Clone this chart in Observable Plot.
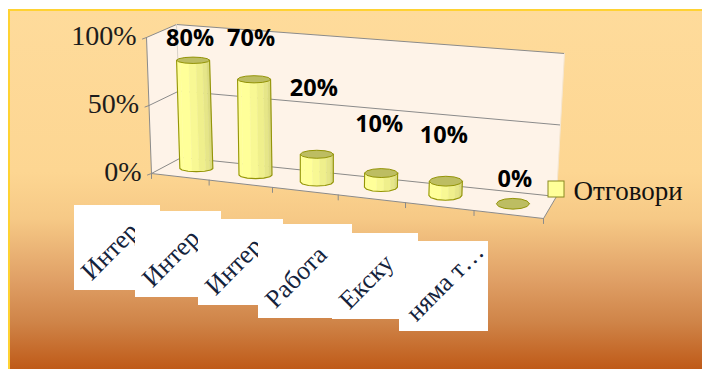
<!DOCTYPE html>
<html>
<head>
<meta charset="utf-8">
<script src="https://cdn.jsdelivr.net/npm/d3@7"></script>
<script src="https://cdn.jsdelivr.net/npm/@observablehq/plot@0.6"></script>
<style>
  html, body { margin: 0; padding: 0; background: #fff; }
  #panel {
    position: absolute; left: 8px; top: 9px; width: 694px; height: 360px; box-sizing: border-box;
    border-top: 2px solid #ffd233; border-left: 2px solid #ffd233;
    background: linear-gradient(180deg, #fedb9b 0%, #fdd692 45%, #f6c986 58%, #e0a066 75%, #cf8448 87%, #bf5a18 100%);
  }
  #chart { position: absolute; left: 0; top: 0; }
  svg { background: transparent !important; }
</style>
</head>
<body>
<div id="panel"></div>
<div id="chart"></div>
<script>
// Survey answers, one cylinder per option
const categories = ["Интер", "Интер", "Интер", "Работа", "Екску", "няма т…"];
const answers = [80, 70, 20, 10, 10, 0];
const axisValues = [0, 50, 100];
const seriesName = "Отговори";

// Screen layout: cylinder nudges, how far each value label sits above its cylinder, and the white label cards
const barNudge = [[3, 0], [2, 0], [0, 0], [-1, -2], [-3, -1], [-3, 0]];
const labelLift = [22, 41, 66, 51, 47, 24];
const labelNudge = [0, -1, -3, -3, -5, -1];
const cards = [[74, 205, 86, 85], [135, 211, 86, 86], [198, 219, 85, 86], [258, 224, 94, 94], [332, 233, 86, 86], [399, 241, 89, 90]];

const W = 702, H = 369;
const unitX = 392 / 6;   // pixels per category on the front edge
const unitY = 1.36;      // pixels per percent
const originY = 173;     // pixel row of the front-left floor corner
const depthBar = 0.5;

// Category position with a slight perspective stretch towards the right
const persp = u => Math.pow(Math.max(u, 0) / 6, 1.07);

// Oblique 3-D box projection into the chart's x (category) and y (percent) units
function pt(u, d, v, skewX = 0, skewY = 0) {
  const t = persp(u);
  const xPx = 392 * t + d * (30 - 17 * t) + (v / 100) * (-5 + 13 * t) + skewX;
  const yPx = 45 * t - d * (16 + 6 * t) - (v / 100) * (136 + 10 * t - 3 * d) + skewY;
  return {x: xPx / unitX, y: -yPx / unitY};
}
const fromPx = (px, py) => ({x: (px - 151) / unitX, y: (originY - py) / unitY});

// Closed polygons and open polylines are both lines through these points
const poly = (pts, opts) => Plot.line(pts, {x: "x", y: "y", curve: "linear", ...opts});

const wallFill = "#fef3e8", gridStroke = "#8b8b8b";
const walls = [
  poly([pt(0,0,0), pt(0,1,0), pt(6,1,0), pt(6,0,0), pt(0,0,0)], {fill: wallFill, stroke: "none"}),
  poly([pt(0,1,0), pt(0,1,100), pt(6,1,100), pt(6,1,0), pt(0,1,0)], {fill: wallFill, stroke: "none"}),
  poly([pt(0,0,0), pt(0,0,100), pt(0,1,100), pt(0,1,0), pt(0,0,0)], {fill: wallFill, stroke: "none"})
];

// Gridlines run along the left wall and then across the back wall
const grid = axisValues.map(v => poly([pt(0,0,v), pt(0,1,v), pt(6,1,v)], {stroke: gridStroke, strokeWidth: 1}));
const frameLines = [
  poly([pt(0,0,0), pt(0,0,100)], {stroke: gridStroke, strokeWidth: 1}),
  poly([pt(0,1,0), pt(0,1,100)], {stroke: "#d9d2c8", strokeWidth: 1}),
  poly([pt(0,0,0), pt(6,0,0), pt(6,1,0)], {stroke: gridStroke, strokeWidth: 1}),
  poly([pt(6,1,0), pt(6,1,100)], {stroke: "#f5e6d0", strokeWidth: 1})
];
const yTicks = axisValues.map(v => poly([pt(0,0,v,-4,1.5), pt(0,0,v)], {stroke: gridStroke, strokeWidth: 1}));
const xTicks = d3.range(0, 7).map(i => poly([pt(i,0,0), pt(i,0,0,0,5)], {stroke: gridStroke, strokeWidth: 1}));

const yLabels = Plot.text(axisValues, {
  x: v => pt(0,0,v).x, y: v => pt(0,0,v).y,
  text: v => v + "%", textAnchor: "end", dx: -10, dy: -1,
  fontFamily: "Liberation Serif", fontSize: 28, fill: "#1c1c1c"
});

// Cylinders: faceted body strips, outline and faceted elliptical cap
const stripColors = ["#fafa8e", "#ffff99", "#ffff99", "#f8f894", "#efef8c", "#e6e688", "#dcdc80", "#cccc74"];
const stripEdges = [180, 172, 140, 105, 80, 55, 35, 15, 0];
const olive = "#949408";
const capPoints = (cx, cy, rx, ry) => d3.range(0, 361, 30).map(a => ({
  x: cx + rx * Math.cos(a * Math.PI / 180),
  y: cy + ry * Math.sin(a * Math.PI / 180)
}));

function cylinder(value, i) {
  const u = i + 0.5;
  const t = persp(u);
  const [nx, ny] = barNudge[i];
  const base = pt(u, depthBar, 0, nx, ny), top = pt(u, depthBar, value, nx, ny);
  const rx = 16.5 / unitX, ry = (3 + 2.6 * t) / unitY;
  const shift = top.x - base.x;
  const bottomAt = a => ({x: base.x + rx * Math.cos(a * Math.PI / 180), y: base.y - ry * Math.sin(a * Math.PI / 180)});
  const topAt = a => ({x: bottomAt(a).x + shift, y: top.y});
  const marks = [];
  if (value > 0) {
    stripColors.forEach((color, k) => {
      const a0 = stripEdges[k], a1 = stripEdges[k + 1];
      marks.push(poly([bottomAt(a0), bottomAt((a0 + a1) / 2), bottomAt(a1), topAt(a1), topAt(a0), bottomAt(a0)], {fill: color, stroke: color, strokeWidth: 0.4}));
    });
    const outline = [topAt(180), ...d3.range(180, -1, -30).map(bottomAt), topAt(0)];
    marks.push(poly(outline, {stroke: olive, strokeWidth: 1.1}));
  }
  marks.push(poly(capPoints(top.x, top.y, rx, ry), {fill: "#bdbd62", stroke: olive, strokeWidth: 1}));
  return marks;
}

// Percent labels float above the cylinders
const valueLabels = answers.map((v, i) => {
  const top = pt(i + 0.5, depthBar, v);
  return Plot.text([v + "%"], {
    x: [top.x + labelNudge[i] / unitX], y: [top.y + labelLift[i] / unitY],
    text: d => d, fontFamily: "Open Sans", fontWeight: 700, fontSize: 23.5, fill: "#000"
  });
});

// Rotated category labels on white cards; each later card covers the tail of the one before it
const categoryMarks = categories.flatMap((label, i) => {
  const [cx, cy, cw, ch] = cards[i];
  const a = fromPx(cx, cy), b = fromPx(cx + cw, cy + ch);
  const c = fromPx(cx + 11, cy + ch - 15);
  return [
    Plot.rect([0], {x1: [a.x], x2: [b.x], y1: [a.y], y2: [b.y], fill: "#fff", inset: 0}),
    Plot.text([label], {
      x: [c.x], y: [c.y], text: d => d, rotate: -45, textAnchor: "start",
      fontFamily: "Liberation Serif", fontSize: 26, fill: "#14233c"
    })
  ];
});

// Legend swatch and series name
const sw0 = fromPx(548, 181), sw1 = fromPx(564, 197), legendAt = fromPx(573, 191);
const legend = [
  Plot.rect([0], {x1: [sw0.x], x2: [sw1.x], y1: [sw0.y], y2: [sw1.y], fill: "#ffff99", stroke: "#8a8a20", strokeWidth: 1}),
  Plot.text([seriesName], {x: [legendAt.x], y: [legendAt.y], text: d => d, textAnchor: "start", fontFamily: "Liberation Serif", fontSize: 27, fill: "#111"})
];

const chart = Plot.plot({
  width: W, height: H,
  marginTop: 0, marginRight: 0, marginBottom: 0, marginLeft: 0,
  style: {background: "transparent", overflow: "visible"},
  x: {domain: [-151 / unitX, (W - 151) / unitX], range: [0, W], axis: null},
  y: {domain: [(originY - H) / unitY, originY / unitY], range: [H, 0], axis: null},
  marks: [
    ...categoryMarks,
    ...walls, ...grid, ...frameLines, ...yTicks, ...xTicks, yLabels,
    ...answers.flatMap(cylinder),
    ...valueLabels, ...legend
  ]
});
document.getElementById("chart").append(chart);
</script>
</body>
</html>
